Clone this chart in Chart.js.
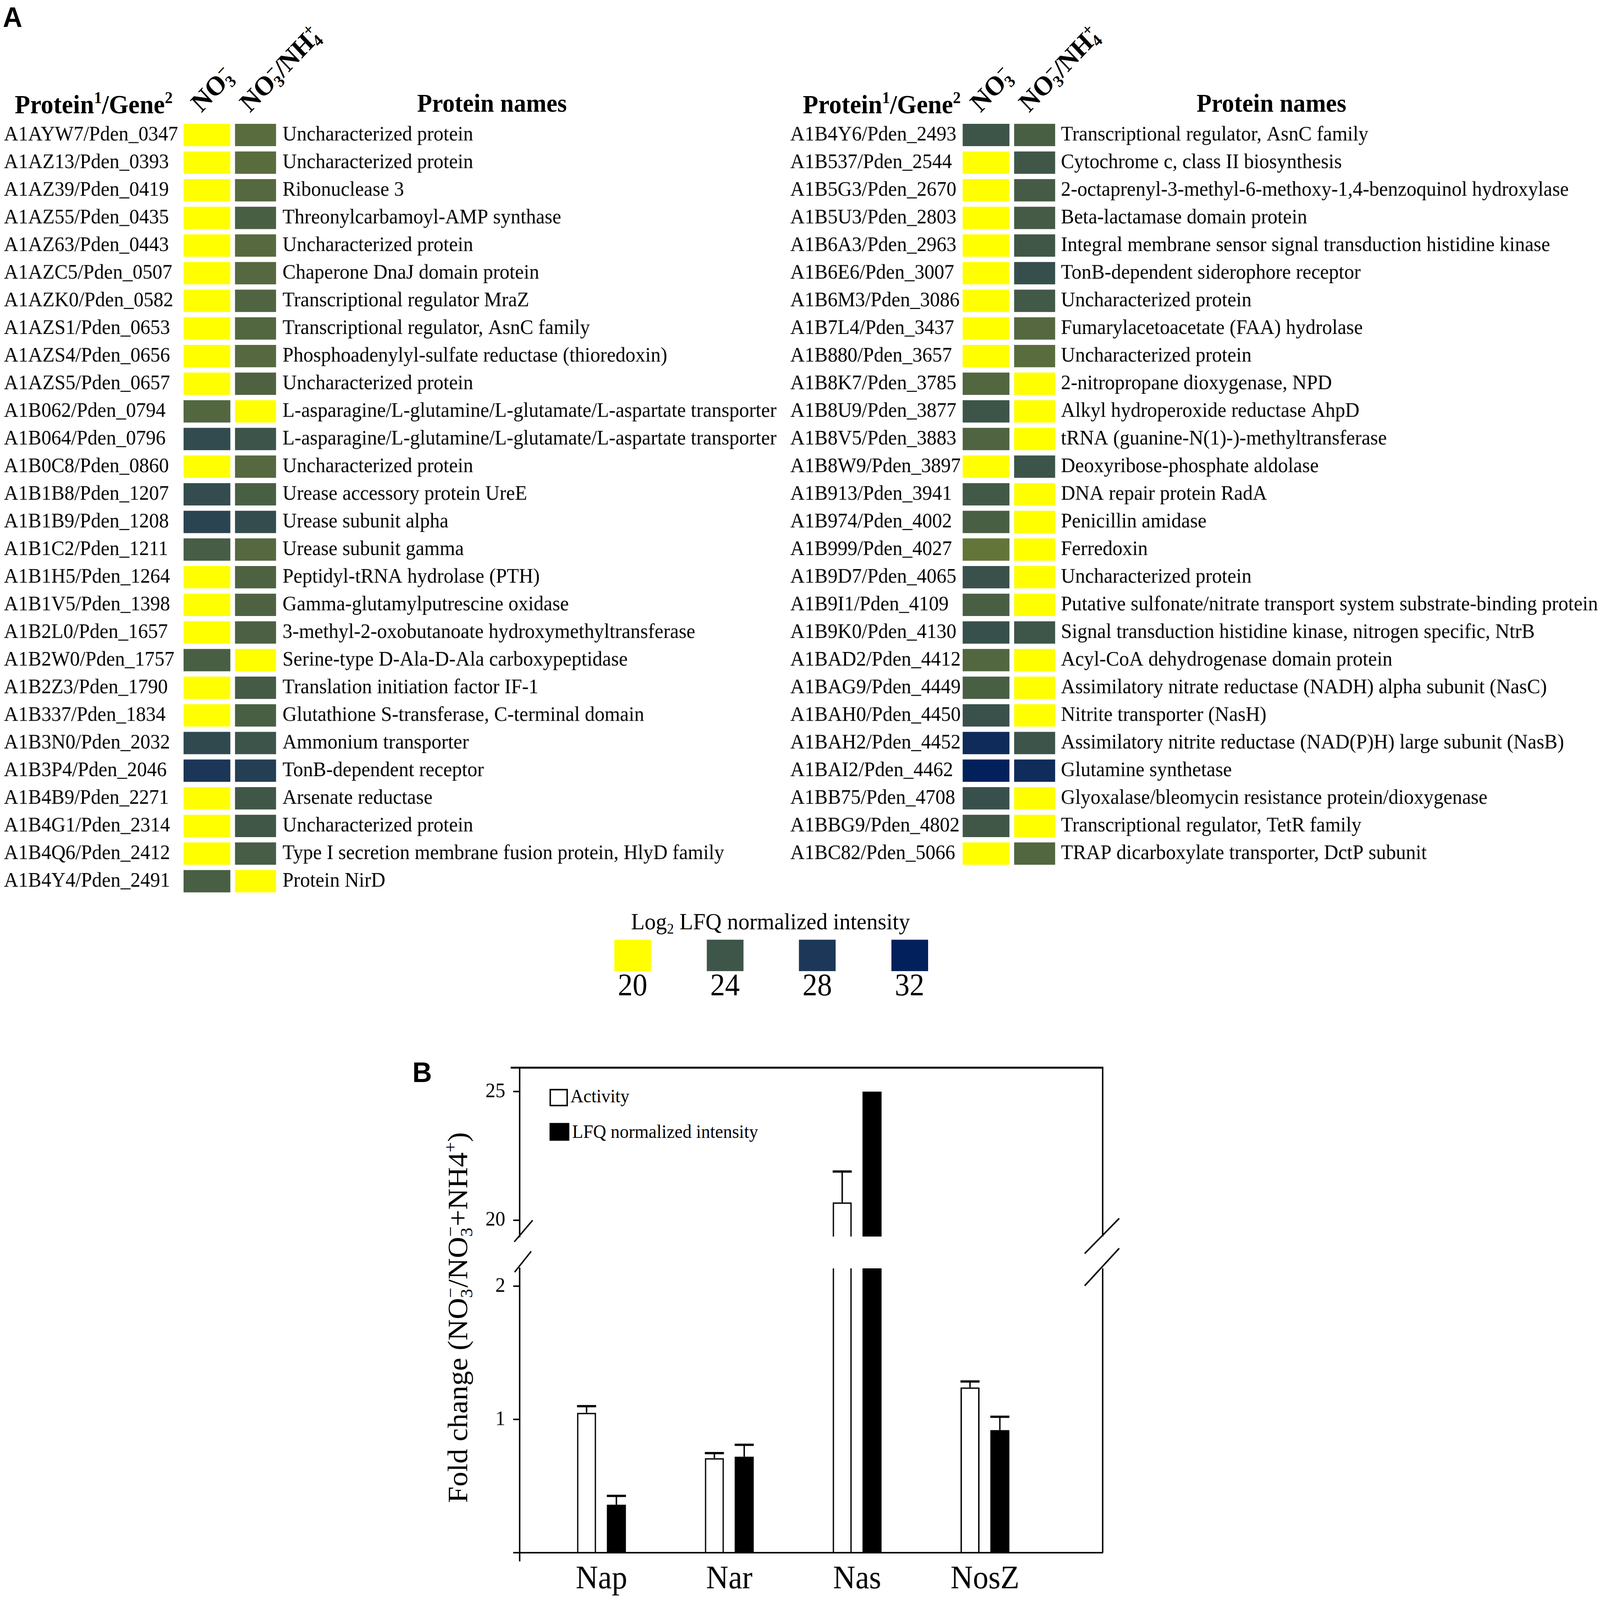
<!DOCTYPE html>
<html lang="en">
<head>
<meta charset="utf-8">
<title>Proteome heatmap and fold change</title>
<script src="https://cdn.jsdelivr.net/npm/chart.js@4.4.1/dist/chart.umd.min.js"></script>
<style>
  html, body { margin:0; padding:0; background:#fff; overflow:hidden; }
  #fig { position:absolute; left:0; top:0; width:4446px; height:4226px; overflow:hidden; color:#000;
         transform-origin:0 0; font-family:'Liberation Serif','Times New Roman',serif; background:#fff; }
  canvas { position:absolute; }
  .t { position:absolute; line-height:1; white-space:nowrap; }
  .t sub, .t sup { font-size:0.62em; line-height:0; position:relative; vertical-align:baseline; }
  .t sub { top:0.28em; }
  .t sup { top:-0.62em; }
  .b { font-weight:bold; }
  .panel { font-family:'Liberation Sans',Arial,sans-serif; font-weight:bold; font-size:75px; }
  .rot { transform-origin:0 0.8375em; transform:rotate(-45deg); }
  .ov { margin-left:-0.5em; }
  .box { position:absolute; box-sizing:border-box; }
</style>
</head>
<body>
<div id="fig">
<div class="t panel" style="left:8px;top:8px">A</div>
<div class="t panel" style="left:1146px;top:2795px">B</div>

<div class="t b" style="left:41px;top:241px;font-size:70px">Protein<sup>1</sup>/Gene<sup>2</sup></div>
<div class="t b rot" style="left:560px;top:240px;font-size:71px">NO<sub>3</sub><sup class="ov">−</sup></div>
<div class="t b rot" style="left:695px;top:240px;font-size:71px">NO<sub>3</sub><sup class="ov">−</sup>/NH<sub>4</sub><sup class="ov">+</sup></div>
<div class="t b" style="left:1367px;top:238px;font-size:68px;transform:translateX(-50%)">Protein names</div>

<div class="t b" style="left:2231px;top:241px;font-size:70px">Protein<sup>1</sup>/Gene<sup>2</sup></div>
<div class="t b rot" style="left:2725px;top:240px;font-size:71px">NO<sub>3</sub><sup class="ov">−</sup></div>
<div class="t b rot" style="left:2860px;top:240px;font-size:71px">NO<sub>3</sub><sup class="ov">−</sup>/NH<sub>4</sub><sup class="ov">+</sup></div>
<div class="t b" style="left:3533px;top:238px;font-size:68px;transform:translateX(-50%)">Protein names</div>

<div class="t" style="left:2141px;top:2403px;font-size:62px;transform:translateX(-50%)">Log<sub>2</sub> LFQ normalized intensity</div>

<div class="box" style="left:1527px;top:2876px;width:51px;height:46px;border:4px solid #000;background:#fff"></div>
<div class="t" style="left:1585px;top:2870px;font-size:50px">Activity</div>
<div class="box" style="left:1527px;top:2966px;width:55px;height:47px;background:#000"></div>
<div class="t" style="left:1590px;top:2963px;font-size:50px">LFQ normalized intensity</div>

<div class="t" style="left:1272px;top:3480px;font-size:78px;transform:translate(-50%,-50%) rotate(-90deg)">Fold change (NO<sub>3</sub><sup class="ov">−</sup>/NO<sub>3</sub><sup class="ov">−</sup>+NH4<sup>+</sup>)</div>

<canvas id="heatL" width="2189" height="2044" style="left:11px;top:320px"></canvas>
<canvas id="heatR" width="2250" height="1971" style="left:2196px;top:320px"></canvas>
<canvas id="barTop" width="2100" height="560" style="left:1100px;top:2760px"></canvas>
<canvas id="barBottom" width="2100" height="946" style="left:1100px;top:3280px"></canvas>
</div>

<script>
// ---------------- Panel A data ----------------
const leftIds = ['A1AYW7/Pden_0347','A1AZ13/Pden_0393','A1AZ39/Pden_0419','A1AZ55/Pden_0435','A1AZ63/Pden_0443',
  'A1AZC5/Pden_0507','A1AZK0/Pden_0582','A1AZS1/Pden_0653','A1AZS4/Pden_0656','A1AZS5/Pden_0657',
  'A1B062/Pden_0794','A1B064/Pden_0796','A1B0C8/Pden_0860','A1B1B8/Pden_1207','A1B1B9/Pden_1208',
  'A1B1C2/Pden_1211','A1B1H5/Pden_1264','A1B1V5/Pden_1398','A1B2L0/Pden_1657','A1B2W0/Pden_1757',
  'A1B2Z3/Pden_1790','A1B337/Pden_1834','A1B3N0/Pden_2032','A1B3P4/Pden_2046','A1B4B9/Pden_2271',
  'A1B4G1/Pden_2314','A1B4Q6/Pden_2412','A1B4Y4/Pden_2491'];
const leftNames = ['Uncharacterized protein','Uncharacterized protein','Ribonuclease 3','Threonylcarbamoyl-AMP synthase',
  'Uncharacterized protein','Chaperone DnaJ domain protein','Transcriptional regulator MraZ',
  'Transcriptional regulator, AsnC family','Phosphoadenylyl-sulfate reductase (thioredoxin)','Uncharacterized protein',
  'L-asparagine/L-glutamine/L-glutamate/L-aspartate transporter','L-asparagine/L-glutamine/L-glutamate/L-aspartate transporter',
  'Uncharacterized protein','Urease accessory protein UreE','Urease subunit alpha','Urease subunit gamma',
  'Peptidyl-tRNA hydrolase (PTH)','Gamma-glutamylputrescine oxidase','3-methyl-2-oxobutanoate hydroxymethyltransferase',
  'Serine-type D-Ala-D-Ala carboxypeptidase','Translation initiation factor IF-1','Glutathione S-transferase, C-terminal domain',
  'Ammonium transporter','TonB-dependent receptor','Arsenate reductase','Uncharacterized protein',
  'Type I secretion membrane fusion protein, HlyD family','Protein NirD'];
const leftNO3    = [20,20,20,20,20,20,20,20,20,20, 23.1,25.4,20,25.2,26.3, 23.6,20,20,20,23.5, 20,20,25.6,28.1,20, 20,20,23.5];
const leftNO3NH4 = [22.8,22.8,23.0,23.5,22.9,23.0,23.2,23.1,23.0,23.3, 20,24.2,23.0,23.5,25.2, 23.0,23.3,23.3,23.4,20, 23.7,23.5,24.2,27.1,23.9, 23.9,23.6,20];

const rightIds = ['A1B4Y6/Pden_2493','A1B537/Pden_2544','A1B5G3/Pden_2670','A1B5U3/Pden_2803','A1B6A3/Pden_2963',
  'A1B6E6/Pden_3007','A1B6M3/Pden_3086','A1B7L4/Pden_3437','A1B880/Pden_3657','A1B8K7/Pden_3785',
  'A1B8U9/Pden_3877','A1B8V5/Pden_3883','A1B8W9/Pden_3897','A1B913/Pden_3941','A1B974/Pden_4002',
  'A1B999/Pden_4027','A1B9D7/Pden_4065','A1B9I1/Pden_4109','A1B9K0/Pden_4130','A1BAD2/Pden_4412',
  'A1BAG9/Pden_4449','A1BAH0/Pden_4450','A1BAH2/Pden_4452','A1BAI2/Pden_4462','A1BB75/Pden_4708',
  'A1BBG9/Pden_4802','A1BC82/Pden_5066'];
const rightNames = ['Transcriptional regulator, AsnC family','Cytochrome c, class II biosynthesis',
  '2-octaprenyl-3-methyl-6-methoxy-1,4-benzoquinol hydroxylase','Beta-lactamase domain protein',
  'Integral membrane sensor signal transduction histidine kinase','TonB-dependent siderophore receptor',
  'Uncharacterized protein','Fumarylacetoacetate (FAA) hydrolase','Uncharacterized protein',
  '2-nitropropane dioxygenase, NPD','Alkyl hydroperoxide reductase AhpD','tRNA (guanine-N(1)-)-methyltransferase',
  'Deoxyribose-phosphate aldolase','DNA repair protein RadA','Penicillin amidase','Ferredoxin','Uncharacterized protein',
  'Putative sulfonate/nitrate transport system substrate-binding protein',
  'Signal transduction histidine kinase, nitrogen specific, NtrB','Acyl-CoA dehydrogenase domain protein',
  'Assimilatory nitrate reductase (NADH) alpha subunit (NasC)','Nitrite transporter (NasH)',
  'Assimilatory nitrite reductase (NAD(P)H) large subunit (NasB)','Glutamine synthetase',
  'Glyoxalase/bleomycin resistance protein/dioxygenase','Transcriptional regulator, TetR family',
  'TRAP dicarboxylate transporter, DctP subunit'];
const rightNO3    = [24.1,20,20,20,20, 20,20,20,20,23.1, 24.1,23.2,20,23.8,23.5, 22.3,24.5,23.5,24.7,23.1, 23.5,24.6,30.1,32.0,24.7, 23.9,20];
const rightNO3NH4 = [23.5,23.9,23.7,23.7,23.9, 24.8,23.8,23.0,22.8,20, 20,20,24.2,20,20, 20,20,20,24.0,20, 20,20,24.2,30.0,20, 20,23.1];

const legendValues = [20, 24, 28, 32];

// ---------------- Panel B data ----------------
const enzymes     = ['Nap', 'Nar', 'Nas', 'NosZ'];
const activity    = [1.05, 0.71, 20.69, 1.24];
const activityErr = [0.05, 0.037, 1.2, 0.045];
const lfq         = [0.36, 0.72, 25.0, 0.92];
const lfqErr      = [0.066, 0.09, 0, 0.10];
const upperTicks  = [20, 25];
const lowerTicks  = [0, 1, 2];

// ---------------- fit the 4446x4226 figure to the actual viewport ----------------
const fig = document.getElementById('fig');
const sx = window.innerWidth / 4446, sy = window.innerHeight / 4226;
if (Math.abs(sx - 1) > 0.002 || Math.abs(sy - 1) > 0.002) fig.style.transform = `scale(${sx}, ${sy})`;

// ---------------- styles / helpers ----------------
Chart.defaults.font.family = "'Liberation Serif','Times New Roman',serif";
Chart.defaults.color = '#000';

const heatStops = [[20,'#ffff00'],[22,'#6b7b36'],[24,'#3e5549'],[28,'#1c3757'],[32,'#02215c']];
function heatColor(v) {
  const hex = h => [1,3,5].map(k => parseInt(h.slice(k, k+2), 16));
  if (v <= heatStops[0][0]) return heatStops[0][1];
  for (let k = 1; k < heatStops.length; k++) {
    const [v1, c1] = heatStops[k];
    if (v <= v1) {
      const [v0, c0] = heatStops[k-1];
      const f = (v - v0) / (v1 - v0);
      const a = hex(c0), b = hex(c1);
      return 'rgb(' + a.map((x, j) => Math.round(x + (b[j] - x) * f)).join(',') + ')';
    }
  }
  return heatStops[heatStops.length-1][1];
}

legendValues.forEach((v, i) => {
  const sw = document.createElement('div');
  sw.className = 'box';
  sw.style.cssText = `left:${1707 + i*256.5}px;top:2482px;width:102px;height:83px;background:${heatColor(v)}`;
  fig.appendChild(sw);
  const lb = document.createElement('div');
  lb.className = 't';
  lb.style.cssText = `left:${1758 + i*256.5}px;top:2561px;font-size:82px;transform:translateX(-50%)`;
  lb.textContent = String(v);
  fig.appendChild(lb);
});

const colSpans = [[0, 1], [1.1, 1.977]];
function heatChart(id, ids, names, colA, colB, yWidth, y2Width, y2Pad) {
  const mk = (vals, span) => ({
    data: vals.map(() => span),
    backgroundColor: vals.map(heatColor),
    borderWidth: 0, grouped: false, barPercentage: 0.81, categoryPercentage: 1
  });
  new Chart(document.getElementById(id), {
    type: 'bar',
    data: { labels: ids, datasets: [mk(colA, colSpans[0]), mk(colB, colSpans[1])] },
    options: {
      indexAxis: 'y', responsive: false, maintainAspectRatio: false, animation: false, events: [],
      devicePixelRatio: 1,
      layout: { padding: 0 },
      plugins: { legend: { display: false }, tooltip: { enabled: false } },
      scales: {
        x: { type: 'linear', display: false, min: 0, max: 1.977 },
        y: { type: 'category', position: 'left', offset: true,
             grid: { display: false, drawTicks: false }, border: { display: false },
             ticks: { autoSkip: false, crossAlign: 'far', padding: 0, color: '#000', font: { size: 55 } },
             afterFit(s) { s.width = yWidth; s.paddingTop = 0; s.paddingBottom = 0; } },
        y2: { type: 'category', position: 'right', labels: names, offset: true,
              grid: { display: false, drawTicks: false }, border: { display: false },
              ticks: { autoSkip: false, padding: y2Pad, color: '#000', font: { size: 55 } },
              afterFit(s) { s.width = y2Width; s.paddingTop = 0; s.paddingBottom = 0; } }
      }
    }
  });
}
heatChart('heatL', leftIds, leftNames, leftNO3, leftNO3NH4, 499, 1433, 18);
heatChart('heatR', rightIds, rightNames, rightNO3, rightNO3NH4, 479, 1514, 16);

const errorBarPlugin = {
  id: 'errorBars',
  afterDatasetsDraw(chart) {
    const { ctx, chartArea: ca, scales: { y } } = chart;
    ctx.save();
    ctx.beginPath(); ctx.rect(ca.left, ca.top, ca.right - ca.left, ca.bottom - ca.top); ctx.clip();
    ctx.strokeStyle = '#000';
    chart.data.datasets.forEach((ds, di) => {
      chart.getDatasetMeta(di).data.forEach((el, i) => {
        const e = ds.errors[i];
        if (!e) return;
        const yTop = y.getPixelForValue(ds.data[i].y + e);
        ctx.lineWidth = 4;
        ctx.beginPath(); ctx.moveTo(el.x, el.y); ctx.lineTo(el.x, yTop); ctx.stroke();
        ctx.lineWidth = 6;
        ctx.beginPath(); ctx.moveTo(el.x - el.width / 2, yTop); ctx.lineTo(el.x + el.width / 2, yTop); ctx.stroke();
      });
    });
    ctx.restore();
  }
};

function line(ctx, x0, y0, x1, y1, w) {
  ctx.lineWidth = w; ctx.beginPath(); ctx.moveTo(x0, y0); ctx.lineTo(x1, y1); ctx.stroke();
}

function barChart(id, yMin, yMax, yTicks, padding, showX, frame) {
  new Chart(document.getElementById(id), {
    type: 'bar',
    data: {
      datasets: [
        { label: 'Activity', data: activity.map((v, i) => ({ x: i + 1, y: v })), errors: activityErr,
          backgroundColor: '#fff', borderColor: '#000', borderWidth: 4, clip: 0,
          categoryPercentage: 0.467, barPercentage: 0.639 },
        { label: 'LFQ normalized intensity', data: lfq.map((v, i) => ({ x: i + 1, y: v })), errors: lfqErr,
          backgroundColor: '#000', borderWidth: 0, clip: 0,
          categoryPercentage: 0.467, barPercentage: 0.639 }
      ]
    },
    options: {
      responsive: false, maintainAspectRatio: false, animation: false, events: [],
      devicePixelRatio: 1,
      layout: { padding },
      plugins: { legend: { display: false }, tooltip: { enabled: false } },
      scales: {
        x: { type: 'linear', display: showX, min: 0.36, max: 4.921, offset: false,
             afterBuildTicks(s) { s.ticks = enzymes.map((_, i) => ({ value: i + 1 })); },
             grid: { display: false, drawTicks: false, offset: false },
             border: { display: true, color: '#000', width: 4 },
             ticks: { autoSkip: false, maxRotation: 0, padding: 20, color: '#000', font: { size: 86 },
                      callback: v => enzymes[v - 1] },
             afterFit(s) { if (showX) s.height = 125; s.paddingLeft = 0; s.paddingRight = 0; } },
        y: { type: 'linear', min: yMin, max: yMax,
             afterBuildTicks(s) { s.ticks = yTicks.map(v => ({ value: v })); },
             grid: { display: true, drawOnChartArea: false, drawTicks: true, tickLength: 18,
                     lineWidth: 4, tickWidth: 4, color: '#000', tickColor: '#000' },
             border: { display: true, color: '#000', width: 4 },
             ticks: { padding: 22, color: '#000', font: { size: 55 }, callback: v => (v === 0 ? '' : String(v)) },
             afterFit(s) { s.width = 344; s.paddingTop = 0; s.paddingBottom = 0; } }
      }
    },
    plugins: [errorBarPlugin, { id: 'frame', afterDraw(chart) {
      const { ctx, chartArea: ca } = chart;
      ctx.save(); ctx.strokeStyle = '#000'; ctx.lineCap = 'butt';
      frame(ctx, ca);
      ctx.restore();
    } }]
  });
}

barChart('barTop', 19.36, 25.93, upperTicks, { top: 60, right: 136, bottom: 54, left: 0 }, false, (ctx, ca) => {
  line(ctx, ca.left - 25, ca.top, ca.right + 2, ca.top, 5);
  line(ctx, ca.right, ca.top, ca.right, ca.bottom, 4);
  line(ctx, ca.left - 15, ca.bottom + 14, ca.left + 36, ca.bottom - 43, 4);
  line(ctx, ca.right - 50, ca.bottom + 45, ca.right + 46, ca.bottom - 48, 4);
});
barChart('barBottom', 0, 2.134, lowerTicks, { top: 70, right: 136, bottom: 0, left: 0 }, true, (ctx, ca) => {
  line(ctx, ca.right, ca.top, ca.right, ca.bottom, 4);
  line(ctx, ca.left, ca.bottom, ca.left, ca.bottom + 23, 4);
  line(ctx, ca.left - 14, ca.top + 10, ca.left + 32, ca.top - 45, 4);
  line(ctx, ca.right - 50, ca.top + 46, ca.right + 46, ca.top - 53, 4);
});
</script>
</body>
</html>
